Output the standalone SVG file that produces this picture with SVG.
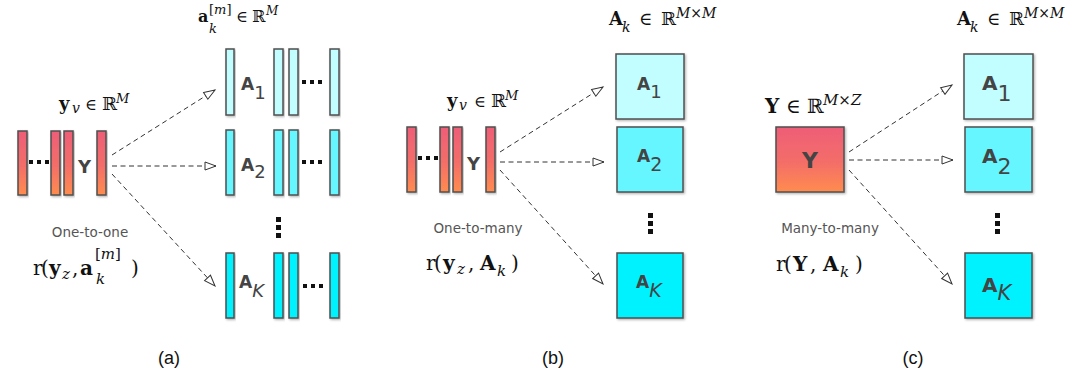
<svg xmlns="http://www.w3.org/2000/svg" width="1073" height="372" viewBox="0 0 1073 372">
<defs>
<linearGradient id="red" x1="0" y1="0" x2="0" y2="1">
<stop offset="0" stop-color="#EE5E78"/>
<stop offset="0.55" stop-color="#F46E68"/>
<stop offset="1" stop-color="#FF8C4E"/>
</linearGradient>
<filter id="sh" x="-20%" y="-20%" width="140%" height="140%">
<feDropShadow dx="1.2" dy="1.2" stdDeviation="0.8" flood-color="#000" flood-opacity="0.3"/>
</filter>
<marker id="arr" markerUnits="userSpaceOnUse" markerWidth="14" markerHeight="12" refX="12" refY="5" orient="auto" viewBox="0 0 14 10">
<path d="M1,1 L12,5 L1,9 Z" fill="#fff" stroke="#333" stroke-width="1"/>
</marker>
</defs>
<style>
.r{fill:url(#red);stroke:#4f4f4f;stroke-width:1.5;filter:url(#sh)}
.c1{fill:#C2FEFF;stroke:#4f4f4f;stroke-width:1.5;filter:url(#sh)}
.c2{fill:#66F6FF;stroke:#4f4f4f;stroke-width:1.5;filter:url(#sh)}
.c3{fill:#00F2FF;stroke:#4f4f4f;stroke-width:1.5;filter:url(#sh)}
.dot{fill:#111}
.lbl{font-family:"DejaVu Sans",Verdana,sans-serif;fill:#444}
.b{font-weight:bold}
.math{font-family:"DejaVu Serif","Liberation Serif",serif;fill:#111}
.it{font-style:italic}
.cap{font-family:"DejaVu Sans",Verdana,sans-serif;fill:#555;font-size:13.5px;text-anchor:middle}
.pl{font-family:"Liberation Sans",Arial,sans-serif;fill:#111;font-size:18px;text-anchor:middle}
.con line{stroke:#333;stroke-width:1;stroke-dasharray:5,3.5;fill:none;marker-end:url(#arr)}
</style>
<rect width="1073" height="372" fill="#fff"/>

<!-- Panel (a) -->
<g id="a-input">
<rect class="r" x="18" y="131" width="9" height="64"/>
<rect class="r" x="51" y="131" width="9" height="64"/>
<rect class="r" x="64" y="131" width="9" height="64"/>
<rect class="r" x="97" y="131" width="9" height="64"/>
<rect class="dot" x="29" y="160" width="4" height="4"/>
<rect class="dot" x="37" y="160" width="4" height="4"/>
<rect class="dot" x="45" y="160" width="4" height="4"/>
<text class="lbl b" x="78" y="173" font-size="18">Y</text>
<text class="math" font-size="18" y="110"><tspan class="b" x="59">y</tspan><tspan class="it" font-size="14" x="72" y="113">v</tspan><tspan font-size="16" x="85" y="110">∈</tspan><tspan x="102">ℝ</tspan><tspan class="it" font-size="13" x="116" y="103">M</tspan></text>
<text class="cap" x="90" y="237">One-to-one</text>
<text class="math" font-size="20" y="275"><tspan x="33">r</tspan><tspan x="41">(</tspan><tspan class="b" x="49">y</tspan><tspan class="it" font-size="15" x="62" y="279">z</tspan><tspan x="72" y="275">,</tspan><tspan class="b" x="80" y="275">a</tspan><tspan font-size="15" x="95" y="259">[<tspan class="it">m</tspan>]</tspan><tspan class="it" font-size="15" x="96" y="284">k</tspan><tspan x="131" y="275">)</tspan></text>
</g>
<g id="a-A1">
<rect class="c1" x="226" y="49" width="8" height="66"/>
<rect class="c1" x="274" y="49" width="9" height="66"/>
<rect class="c1" x="289" y="49" width="9" height="66"/>
<rect class="c1" x="330" y="49" width="9" height="66"/>
<rect class="dot" x="302" y="80" width="4" height="4"/>
<rect class="dot" x="310" y="80" width="4" height="4"/>
<rect class="dot" x="318" y="80" width="4" height="4"/>
<text class="lbl" x="241" y="90"><tspan class="b" font-size="17">A</tspan><tspan font-size="18" dy="9">1</tspan></text>
</g>
<g id="a-A2">
<rect class="c2" x="226" y="130" width="8" height="65"/>
<rect class="c2" x="274" y="130" width="9" height="65"/>
<rect class="c2" x="289" y="130" width="9" height="65"/>
<rect class="c2" x="330" y="130" width="9" height="65"/>
<rect class="dot" x="302" y="160" width="4" height="4"/>
<rect class="dot" x="310" y="160" width="4" height="4"/>
<rect class="dot" x="318" y="160" width="4" height="4"/>
<text class="lbl" x="241" y="171"><tspan class="b" font-size="17">A</tspan><tspan font-size="18" dy="7">2</tspan></text>
</g>
<g id="a-dots">
<rect class="dot" x="276" y="217" width="5" height="5"/>
<rect class="dot" x="276" y="225" width="5" height="5"/>
<rect class="dot" x="276" y="233" width="5" height="5"/>
</g>
<g id="a-AK">
<rect class="c3" x="226" y="253" width="8" height="65"/>
<rect class="c3" x="274" y="253" width="9" height="65"/>
<rect class="c3" x="289" y="253" width="9" height="65"/>
<rect class="c3" x="330" y="253" width="9" height="65"/>
<rect class="dot" x="303" y="284" width="4" height="4"/>
<rect class="dot" x="311" y="284" width="4" height="4"/>
<rect class="dot" x="319" y="284" width="4" height="4"/>
<text class="lbl" x="239" y="288"><tspan class="b" font-size="17">A</tspan><tspan class="it" font-size="18" dy="9">K</tspan></text>
</g>
<text class="math" font-size="16" y="22"><tspan class="b" x="198">a</tspan><tspan font-size="13" x="209" y="14">[<tspan class="it">m</tspan>]</tspan><tspan class="it" font-size="13" x="209" y="33">k</tspan><tspan x="236" y="22">∈</tspan><tspan x="252">ℝ</tspan><tspan class="it" font-size="12" x="266" y="15">M</tspan></text>
<text class="pl" x="169" y="364">(a)</text>

<!-- Panel (b) -->
<g id="b-input">
<rect class="r" x="407" y="127" width="9" height="65"/>
<rect class="r" x="440" y="127" width="9" height="65"/>
<rect class="r" x="453" y="127" width="9" height="65"/>
<rect class="r" x="486" y="127" width="9" height="65"/>
<rect class="dot" x="418" y="156" width="4" height="4"/>
<rect class="dot" x="426" y="156" width="4" height="4"/>
<rect class="dot" x="434" y="156" width="4" height="4"/>
<text class="lbl b" x="467" y="170" font-size="18">Y</text>
<text class="math" font-size="18" y="107"><tspan class="b" x="447">y</tspan><tspan class="it" font-size="14" x="459" y="110">v</tspan><tspan font-size="16" x="474" y="107">∈</tspan><tspan x="491">ℝ</tspan><tspan class="it" font-size="13" x="505" y="100">M</tspan></text>
<text class="cap" x="478" y="233">One-to-many</text>
<text class="math" font-size="20" y="270"><tspan x="426">r</tspan><tspan x="434">(</tspan><tspan class="b" x="443">y</tspan><tspan class="it" font-size="15" x="457" y="274">z</tspan><tspan x="468" y="270">,</tspan><tspan class="b" x="480" y="270">A</tspan><tspan class="it" font-size="15" x="497" y="276">k</tspan><tspan x="511" y="270">)</tspan></text>
</g>
<g id="b-A1">
<rect class="c1" x="616" y="54" width="68" height="65"/>
<text class="lbl" x="637" y="90"><tspan class="b" font-size="17">A</tspan><tspan font-size="18" dy="8">1</tspan></text>
</g>
<g id="b-A2">
<rect class="c2" x="617" y="127" width="66" height="65"/>
<text class="lbl" x="637" y="162"><tspan class="b" font-size="17">A</tspan><tspan font-size="19" dy="9">2</tspan></text>
</g>
<g id="b-dots">
<rect class="dot" x="648" y="213" width="5" height="5"/>
<rect class="dot" x="648" y="221" width="5" height="5"/>
<rect class="dot" x="648" y="229" width="5" height="5"/>
</g>
<g id="b-AK">
<rect class="c3" x="617" y="253" width="66" height="65"/>
<text class="lbl" x="636" y="288"><tspan class="b" font-size="17">A</tspan><tspan class="it" font-size="19" dy="9">K</tspan></text>
</g>
<text class="math" font-size="18" y="25"><tspan class="b" x="609">A</tspan><tspan class="it" font-size="14" x="622" y="32">k</tspan><tspan x="639" y="25">∈</tspan><tspan x="661">ℝ</tspan><tspan class="it" font-size="14" x="676" y="18">M</tspan><tspan font-size="14">×</tspan><tspan class="it" font-size="14">M</tspan></text>
<text class="pl" x="553" y="364">(b)</text>

<!-- Panel (c) -->
<g id="c-input">
<rect class="r" x="776" y="127" width="68" height="65"/>
<text class="lbl b" x="810" y="168" font-size="22" text-anchor="middle">Y</text>
<text class="math" font-size="20" y="113"><tspan class="b" x="765">Y</tspan><tspan x="786">∈</tspan><tspan x="807">ℝ</tspan><tspan class="it" font-size="15" x="823" y="105">M</tspan><tspan font-size="15">×</tspan><tspan class="it" font-size="15">Z</tspan></text>
<text class="cap" x="830" y="233">Many-to-many</text>
<text class="math" font-size="20" y="271"><tspan x="776">r</tspan><tspan x="784">(</tspan><tspan class="b" x="793">Y</tspan><tspan x="810">,</tspan><tspan class="b" x="823">A</tspan><tspan class="it" font-size="15" x="840" y="277">k</tspan><tspan x="855" y="271">)</tspan></text>
</g>
<g id="c-A1">
<rect class="c1" x="964" y="54" width="69" height="65"/>
<text class="lbl" x="982" y="90"><tspan class="b" font-size="20">A</tspan><tspan font-size="22" dy="11">1</tspan></text>
</g>
<g id="c-A2">
<rect class="c2" x="965" y="127" width="67" height="65"/>
<text class="lbl" x="982" y="163"><tspan class="b" font-size="20">A</tspan><tspan font-size="22" dy="11">2</tspan></text>
</g>
<g id="c-dots">
<rect class="dot" x="995" y="213" width="5" height="5"/>
<rect class="dot" x="995" y="221" width="5" height="5"/>
<rect class="dot" x="995" y="229" width="5" height="5"/>
</g>
<g id="c-AK">
<rect class="c3" x="965" y="253" width="67" height="65"/>
<text class="lbl" x="982" y="292"><tspan class="b" font-size="20">A</tspan><tspan class="it" font-size="21" dy="8">K</tspan></text>
</g>
<text class="math" font-size="18" y="25"><tspan class="b" x="957">A</tspan><tspan class="it" font-size="14" x="970" y="32">k</tspan><tspan x="987" y="25">∈</tspan><tspan x="1009">ℝ</tspan><tspan class="it" font-size="14" x="1024" y="18">M</tspan><tspan font-size="14">×</tspan><tspan class="it" font-size="14">M</tspan></text>
<text class="pl" x="913" y="364">(c)</text>

<g id="connectors" class="con">
<line x1="112" y1="155" x2="215" y2="90"/>
<line x1="112" y1="166" x2="216" y2="166"/>
<line x1="112" y1="174" x2="215" y2="286"/>
<line x1="500" y1="152" x2="603" y2="87"/>
<line x1="500" y1="162" x2="604" y2="162"/>
<line x1="500" y1="170" x2="603" y2="284"/>
<line x1="849" y1="152" x2="952" y2="85"/>
<line x1="849" y1="160" x2="953" y2="160"/>
<line x1="849" y1="170" x2="952" y2="284"/>
</g>
</svg>
